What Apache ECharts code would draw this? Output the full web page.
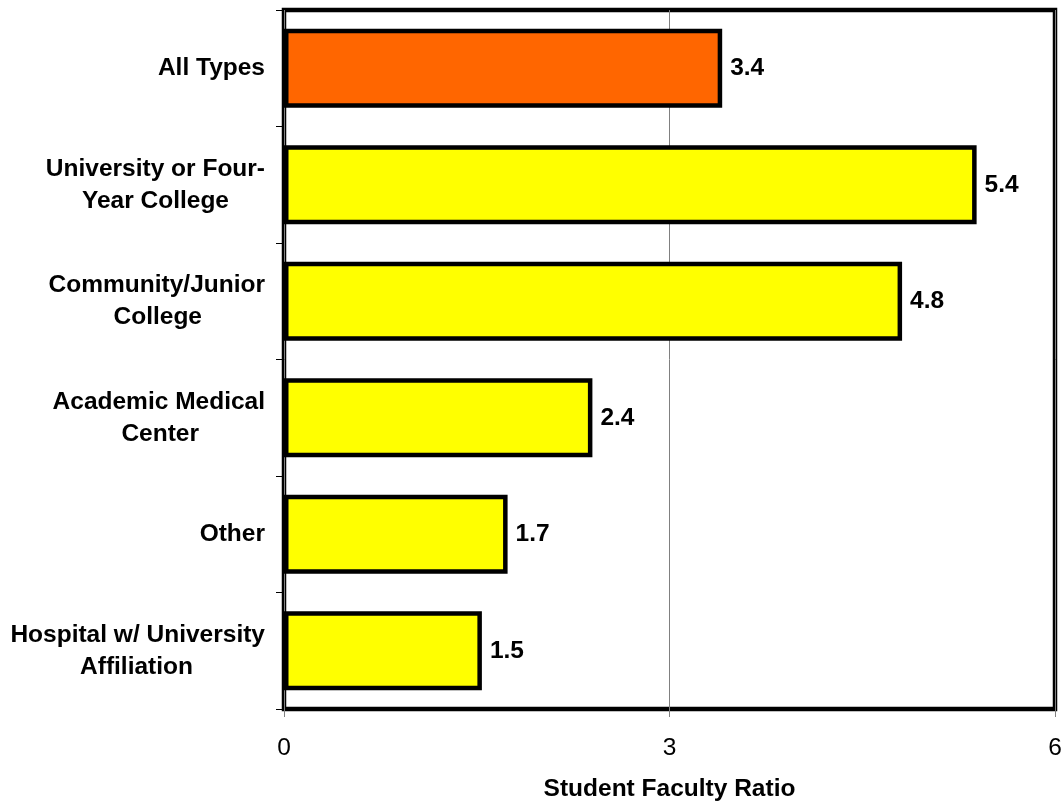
<!DOCTYPE html>
<html>
<head>
<meta charset="utf-8">
<script src="https://cdn.jsdelivr.net/npm/echarts@6/dist/echarts.min.js"></script>
<style>
  html, body { margin: 0; padding: 0; background: #fff; }
  #chart { width: 1063px; height: 801px; }
</style>
</head>
<body>
<div id="chart"></div>
<script>
  // data (bar lengths; labels show one decimal)
  const categories = [
    'All Types',
    'University or Four-\nYear College',
    'Community/Junior\nCollege',
    'Academic Medical\nCenter',
    'Other',
    'Hospital w/ University\nAffiliation'
  ];
  const ratios = [3.41, 5.39, 4.81, 2.4, 1.74, 1.54];
  const xTicks = [0, 3, 6];
  const axisTitle = 'Student Faculty Ratio';

  // right padding of second label lines (px), to mimic the original wrap
  const secondLinePad = [0, 36, 63, 66, 0, 72];

  const chart = echarts.init(document.getElementById('chart'));
  const font = 'Arial, "Liberation Sans", sans-serif';
  const fs = 24.5;

  let rich = {
    a: { fontFamily: font, fontSize: fs, fontWeight: 'bold', color: '#000', lineHeight: 32 }
  };
  secondLinePad.forEach((p, i) => {
    rich['b' + i] = { fontFamily: font, fontSize: fs, fontWeight: 'bold', color: '#000', lineHeight: 32, padding: [0, p, 0, 0] };
  });

  let barData = ratios.map((v, i) => ({
    value: v,
    itemStyle: { color: i === 0 ? '#FF6600' : '#FFFF00' }
  }));

  let option = {
    animation: false,
    backgroundColor: '#fff',
    grid: {
      left: 284,
      right: 8,
      top: 10,
      bottom: 92,
      outerBoundsMode: 'none',
      containLabel: false,
      show: true,
      borderColor: '#000',
      borderWidth: 4.5,
      backgroundColor: 'transparent'
    },
    xAxis: {
      type: 'value',
      min: xTicks[0],
      max: xTicks[xTicks.length - 1],
      interval: 3,
      name: axisTitle,
      nameLocation: 'middle',
      nameGap: 68,
      nameTextStyle: { fontFamily: font, fontSize: fs, fontWeight: 'bold', color: '#000' },
      axisLine: { show: false },
      axisTick: { show: true, length: 8, lineStyle: { color: '#808080', width: 1 } },
      axisLabel: { fontFamily: font, fontSize: fs, color: '#000', margin: 27 },
      splitLine: { show: true, lineStyle: { color: '#808080', width: 1 } }
    },
    yAxis: {
      type: 'category',
      inverse: true,
      data: categories,
      axisLine: { show: false },
      axisTick: { show: true, length: 8, lineStyle: { color: '#000', width: 1 } },
      axisLabel: {
        margin: 19,
        formatter: function (value, idx) {
          let lines = value.split('\n');
          let out = '{a|' + lines[0] + '}';
          if (lines.length > 1) {
            out += '\n{b' + idx + '|' + lines[1] + '}';
          }
          return out;
        },
        rich: rich
      },
      splitLine: { show: false }
    },
    series: [
      {
        type: 'bar',
        data: barData,
        barCategoryGap: '32%',
        itemStyle: { borderColor: '#000', borderWidth: 4.5 },
        label: {
          show: true,
          position: 'right',
          distance: 8,
          fontFamily: font,
          fontSize: fs,
          fontWeight: 'bold',
          color: '#000',
          formatter: function (p) {
            return p.value.toFixed(1);
          }
        }
      }
    ]
  };

  chart.setOption(option);
  window.addEventListener('resize', function () {
    chart.resize();
  });
</script>
</body>
</html>
